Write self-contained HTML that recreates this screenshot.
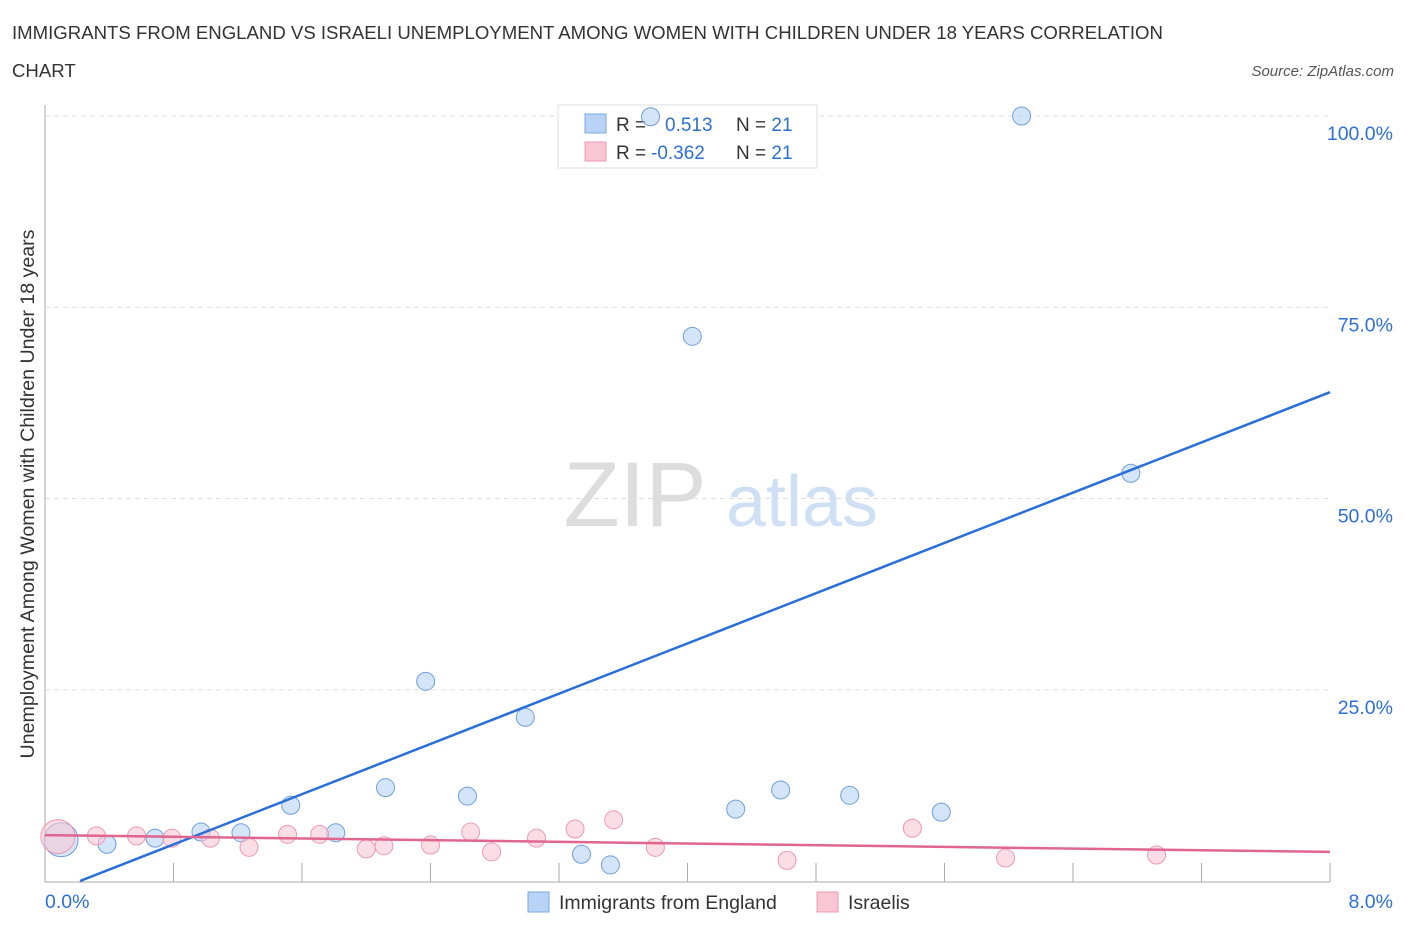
<!DOCTYPE html>
<html><head><meta charset="utf-8"><style>
body{margin:0;background:#fff;font-family:"Liberation Sans",sans-serif}
svg text{font-family:"Liberation Sans",sans-serif}
</style></head><body>
<svg id="c" width="1406" height="930">
<text x="12" y="39" font-size="18.6" fill="#333">IMMIGRANTS FROM ENGLAND VS ISRAELI UNEMPLOYMENT AMONG WOMEN WITH CHILDREN UNDER 18 YEARS CORRELATION</text>
<text x="12" y="77" font-size="18.6" fill="#333">CHART</text>
<text x="1394" y="76" font-size="15" fill="#555" font-style="italic" text-anchor="end">Source: ZipAtlas.com</text>
<text x="34" y="494" font-size="19.6" fill="#333" text-anchor="middle" transform="rotate(-90 34 494)">Unemployment Among Women with Children Under 18 years</text>
<g><text x="635" y="526" font-size="92" fill="#ddd" font-family="Liberation Serif" text-anchor="middle">ZIP</text><text x="802" y="526" font-size="72" fill="#cfe0f5" text-anchor="middle">atlas</text></g>
<g id="grid"></g><g id="axes"></g>
<g>
<rect x="558" y="105" width="259" height="63" fill="#fff" stroke="#ddd"/>
<rect x="585" y="114" width="21" height="19" fill="#b8d3f5" stroke="#7aa8e0"/>
<rect x="585" y="142" width="21" height="19" fill="#f9c6d4" stroke="#ef9ab2"/>
<text x="616" y="131" font-size="19" fill="#333">R = <tspan fill="#2e6fd4" x="665">0.513</tspan><tspan fill="#333" x="736">N = </tspan><tspan fill="#2e6fd4">21</tspan></text>
<text x="616" y="159" font-size="19" fill="#333">R = <tspan fill="#2e6fd4" x="651">-0.362</tspan><tspan fill="#333" x="736">N = </tspan><tspan fill="#2e6fd4">21</tspan></text>
</g>
<g id="marks"></g>
<g>
<rect x="528" y="892" width="21" height="20" fill="#b8d3f5" stroke="#7aa8e0"/>
<text x="559" y="909" font-size="19.5" fill="#333">Immigrants from England</text>
<rect x="817" y="892" width="21" height="20" fill="#f9c6d4" stroke="#ef9ab2"/>
<text x="848" y="909" font-size="19.5" fill="#333">Israelis</text>
</g>
</svg>
<script>
const blueX=[0.10,0.386,0.685,0.971,1.22,1.53,1.81,2.12,2.37,2.63,2.99,3.34,3.52,3.77,4.03,4.30,4.58,5.01,5.58,6.08,6.76];
const blueY=[5.4,4.8,5.6,6.4,6.3,9.9,6.3,12.2,26.1,11.1,21.4,3.5,2.1,99.9,71.2,9.4,11.9,11.2,9.0,100,53.3];
const pinkX=[0.08,0.32,0.57,0.79,1.03,1.27,1.51,1.71,2.0,2.11,2.40,2.65,2.78,3.06,3.30,3.54,3.80,4.62,5.40,5.98,6.92];
const pinkY=[5.8,5.9,5.9,5.6,5.6,4.4,6.1,6.1,4.2,4.6,4.7,6.4,3.8,5.6,6.8,8.0,4.4,2.7,6.9,3.0,3.4];
const blueTrend=[[0.218,0],[8,63.9]];
const pinkTrend=[[0,6.0],[8,3.8]];
const yTicks=[25,50,75,100];
const yTickLabels=["25.0%","50.0%","75.0%","100.0%"];
const xTicks=[0,0.8,1.6,2.4,3.2,4.0,4.8,5.6,6.4,7.2,8.0];
const NS="http://www.w3.org/2000/svg";
const X=v=>45+v/8*1285, Y=v=>881-v/100*765;
function mk(p,t,a){const e=document.createElementNS(NS,t);for(const k in a)e.setAttribute(k,a[k]);document.getElementById(p).appendChild(e);return e;}
yTicks.forEach((t,i)=>{
 const l=mk('grid','line',{x1:45,x2:1330,y1:Y(t),y2:Y(t),stroke:'#ddd','stroke-dasharray':'5,4'});
 
 
 const tx=mk('grid','text',{x:1393,y:Y(t)+24,'font-size':19.5,fill:'#2e6fd4','text-anchor':'end'});tx.textContent=yTickLabels[i];
 
 
});
const ax=mk('axes','line',{x1:45,x2:1330,y1:882,y2:882,stroke:'#aaa'});


const ay=mk('axes','line',{x1:45,x2:45,y1:105,y2:882,stroke:'#aaa'});


xTicks.forEach(t=>{const l=mk('axes','line',{x1:X(t),x2:X(t),y1:863,y2:882,stroke:'#aaa'});
 
 });
const x0=mk('axes','text',{x:45,y:908,'font-size':19.5,fill:'#2e6fd4'});x0.textContent='0.0%';


const x1=mk('axes','text',{x:1393,y:908,'font-size':19.5,fill:'#2e6fd4','text-anchor':'end'});x1.textContent='8.0%';


function pts(xs,ys,f,s,name){xs.forEach((x,i)=>{const c=mk('marks','circle',{cx:X(x),cy:Y(ys[i]),r:i==0?17:9,fill:f,'fill-opacity':0.6,stroke:s,'stroke-width':1});
 
 });}
pts(blueX,blueY,'#b8d3f5','#6e9fdc','point-england');
pts(pinkX,pinkY,'#f9c6d4','#ec9ab1','point-israelis');
const bl=mk('marks','line',{x1:X(blueTrend[0][0]),y1:Y(blueTrend[0][1]),x2:X(blueTrend[1][0]),y2:Y(blueTrend[1][1]),stroke:'#2a6fd6','stroke-width':2.5});


const pl=mk('marks','line',{x1:X(pinkTrend[0][0]),y1:Y(pinkTrend[0][1]),x2:X(pinkTrend[1][0]),y2:Y(pinkTrend[1][1]),stroke:'#e06690','stroke-width':2.5});


</script>
</body></html>
